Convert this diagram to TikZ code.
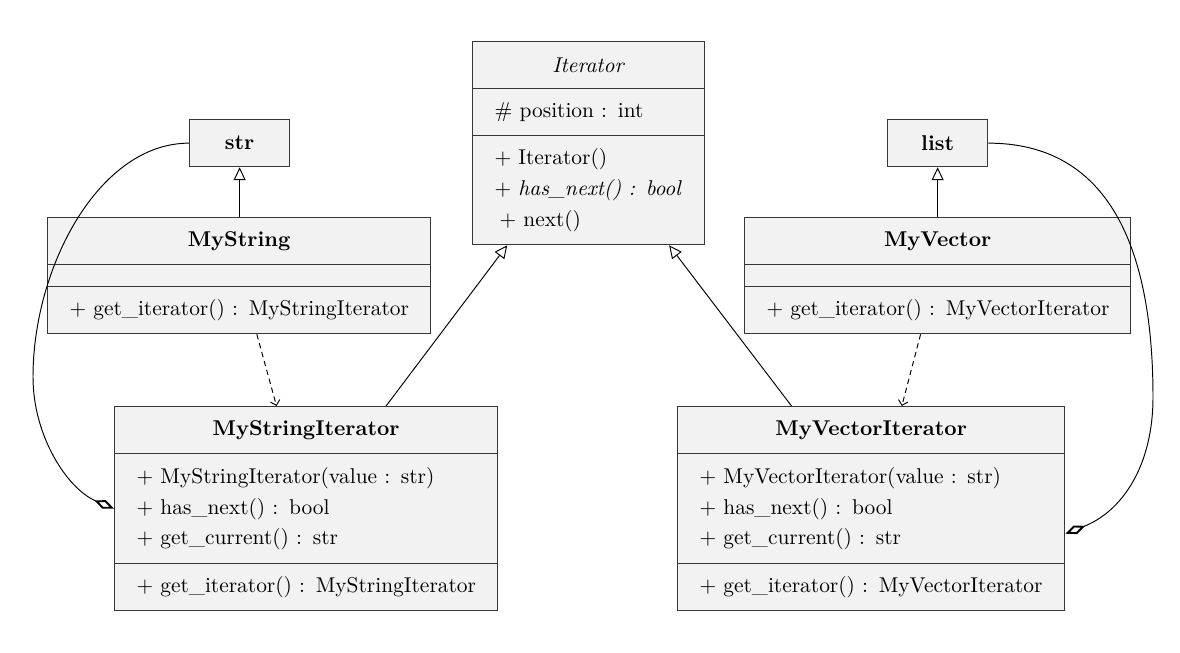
\documentclass[tikz,border=0pt]{standalone}
\usetikzlibrary{arrows.meta,calc}
\definecolor{clsfill}{RGB}{242,242,242}
\definecolor{clsline}{RGB}{55,55,55}
\tikzset{
  cls/.style={draw=clsline, fill=clsfill, line width=0.6pt, anchor=north west, inner sep=0pt,
              font=\fontsize{10}{14.3}\selectfont},
  ttl/.style={cls, align=center},
  cmp/.style={cls, align=left, inner xsep=10.27pt},
  inherit/.style={draw=black, line width=0.45pt, -{Triangle[open,length=6pt,width=5.6pt]}},
  dep/.style={draw=black, line width=0.45pt, dash pattern=on 2.5pt off 1.8pt,
              -{Straight Barb[length=2.2pt,width=4.5pt]}},
  agg/.style={draw=black, line width=0.45pt, -{Diamond[open,length=10pt,width=4.3pt,line width=0.9pt]}},
}
\begin{document}
\begin{tikzpicture}[x=0.467pt, y=-0.467pt]
\useasboundingbox (0,0) rectangle (1180,653);

% Iterator
\node[ttl, minimum width=108.34pt, minimum height=21.95pt] (it1) at (472,41) {\textit{Iterator}};
\node[cmp, text width=87.80pt, minimum height=21.95pt] (it2) at (472,88) {\mbox{\# position : int}};
\node[cmp, text width=87.80pt, minimum height=50.90pt] (it3) at (472,135)
  {\mbox{$+$ Iterator()}\\ \mbox{\textit{$+$ has\_next() : bool}}\\ \mbox{\hspace*{2.3pt}$+$ next()}};

% str and list
\node[ttl, minimum width=46.7pt, minimum height=21.95pt] (str) at (189,119) {\textbf{str}};
\node[ttl, minimum width=46.7pt, minimum height=21.95pt] (list) at (887,119) {\textbf{list}};

% MyString
\node[ttl, minimum width=178.86pt, minimum height=21.95pt] (ms1) at (47,217) {\textbf{MyString}};
\node[cmp, text width=158.32pt, minimum height=10.27pt] (ms2) at (47,264) {};
\node[cmp, text width=158.32pt, minimum height=21.95pt] (ms3) at (47,286)
  {\mbox{$+$ get\_iterator() : MyStringIterator}};

% MyVector
\node[ttl, minimum width=180.26pt, minimum height=21.95pt] (mv1) at (744,217) {\textbf{MyVector}};
\node[cmp, text width=159.72pt, minimum height=10.27pt] (mv2) at (744,264) {};
\node[cmp, text width=159.72pt, minimum height=21.95pt] (mv3) at (744,286)
  {\mbox{$+$ get\_iterator() : MyVectorIterator}};

% MyStringIterator
\node[ttl, minimum width=178.86pt, minimum height=21.95pt] (msi1) at (114,406) {\textbf{MyStringIterator}};
\node[cmp, text width=158.32pt, minimum height=51.37pt] (msi2) at (114,453)
  {\mbox{$+$ MyStringIterator(value : str)}\\ \mbox{$+$ has\_next() : bool}\\ \mbox{$+$ get\_current() : str}};
\node[cmp, text width=158.32pt, minimum height=21.95pt] (msi3) at (114,563)
  {\mbox{$+$ get\_iterator() : MyStringIterator}};

% MyVectorIterator
\node[ttl, minimum width=180.73pt, minimum height=21.95pt] (mvi1) at (677,406) {\textbf{MyVectorIterator}};
\node[cmp, text width=160.19pt, minimum height=51.37pt] (mvi2) at (677,453)
  {\mbox{$+$ MyVectorIterator(value : str)}\\ \mbox{$+$ has\_next() : bool}\\ \mbox{$+$ get\_current() : str}};
\node[cmp, text width=160.19pt, minimum height=21.95pt] (mvi3) at (677,563)
  {\mbox{$+$ get\_iterator() : MyVectorIterator}};

% connectors
\draw[inherit] (ms1.north -| str.south) -- (str.south);
\draw[inherit] (mv1.north -| list.south) -- (list.south);
\draw[inherit] ($(msi1.north west)!0.708!(msi1.north east)$) -- ($(it3.south west)!0.151!(it3.south east)$);
\draw[inherit] ($(mvi1.north west)!0.295!(mvi1.north east)$) -- ($(it3.south west)!0.845!(it3.south east)$);
\draw[dep] ($(ms3.south west)!0.546!(ms3.south east)$) -- ($(msi1.north west)!0.423!(msi1.north east)$);
\draw[dep] ($(mv3.south west)!0.456!(mv3.south east)$) -- ($(mvi1.north west)!0.579!(mvi1.north east)$);

\coordinate (lm) at (33,377);
\coordinate (rm) at (1153,397);
\draw[agg] (str.west) .. controls +(-90,0) and +(0,-110) .. (lm)
  .. controls +(0,60) and +(-46,-19.5) .. (msi2.west);
\draw[agg] (list.east) .. controls +(120,0) and +(0,-150) .. (rm)
  .. controls +(0,70) and +(56,-22) .. ([yshift=-11.7pt]mvi2.east);
\end{tikzpicture}
\end{document}
